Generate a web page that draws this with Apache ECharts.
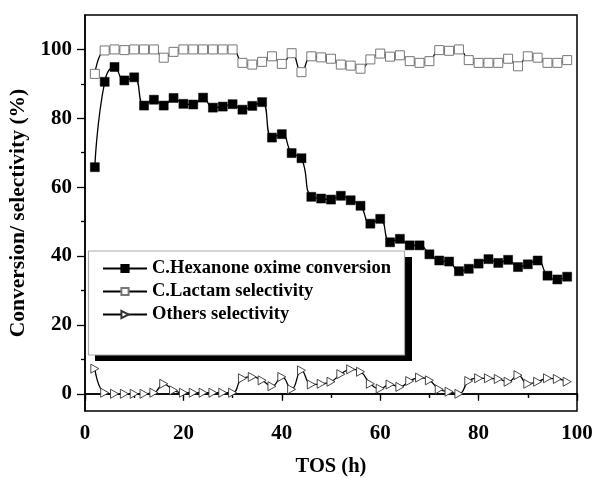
<!DOCTYPE html>
<html>
<head>
<meta charset="utf-8">
<script src="https://cdn.jsdelivr.net/npm/echarts@6/dist/echarts.min.js"></script>
<style>html,body{margin:0;padding:0;background:#fff}#c{width:593px;height:478px}</style>
</head>
<body>
<div id="c"></div>
<script>
const tosHours = [2,4,6,8,10,12,14,16,18,20,22,24,26,28,30,32,34,36,38,40,42,44,46,48,50,52,54,56,58,60,62,64,66,68,70,72,74,76,78,80,82,84,86,88,90,92,94,96,98];
const conversion = [65.8,90.6,94.9,91.0,91.9,83.7,85.4,83.7,85.9,84.2,84.0,86.0,83.1,83.4,84.1,82.5,83.6,84.7,74.4,75.4,69.9,68.4,57.2,56.7,56.4,57.5,56.2,54.6,49.4,50.8,44.0,45.0,43.1,43.1,40.5,38.7,38.4,35.6,36.3,37.8,39.1,38.0,38.9,36.8,37.6,38.7,34.3,33.2,34.0];
const lactamSel = [92.9,99.7,100,99.8,100,100,100,97.6,99.3,100,100,100,100,100,100,96.1,95.6,96.4,98.0,95.8,98.9,93.4,98.0,97.7,97.3,95.6,95.3,94.4,97.1,98.8,97.9,98.3,96.6,96.1,96.6,99.8,99.6,100,96.9,96.1,96.1,96.1,97.3,95.1,98.0,97.6,96.1,96.1,96.9];
const othersSel = [7.3,0.3,0,0,0,0,0.3,2.9,1.0,0.3,0.3,0.3,0.3,0.3,0.3,4.5,4.9,3.9,2.2,4.9,1.3,6.8,2.7,2.9,3.5,5.7,7.1,6.4,2.9,1.5,2.7,2.0,3.7,4.7,3.9,1.3,0.6,0.0,3.7,4.5,4.5,4.3,3.5,5.4,2.9,3.5,4.5,4.3,3.5];
const seriesNames = ['C.Hexanone oxime conversion','C.Lactam selectivity','Others selectivity'];
const yMajorTicks = [0,20,40,60,80,100];
const yMinorTicks = [10,30,50,70,90];
const xTitle = 'TOS (h)';
const yTitle = 'Conversion/ selectivity (%)';

const pairs = arr => tosHours.map((x,i) => [x, arr[i]]);
const FONT = 'Liberation Serif';

const chart = echarts.init(document.getElementById('c'), null, {renderer:'canvas'});
const lineStyle = {color:'#000', width:1.3};
chart.setOption({
  animation:false,
  backgroundColor:'#fff',
  grid:{left:85, right:16, top:15, bottom:67, show:true, borderColor:'#000', borderWidth:1.5, backgroundColor:'transparent', outerBoundsMode:'none', containLabel:false},
  xAxis:[{
    type:'value', min:0, max:100, interval:20,
    name:xTitle, nameLocation:'middle', nameGap:45,
    nameTextStyle:{fontFamily:FONT, fontWeight:'bold', fontSize:20.5, color:'#000'},
    axisLine:{show:true, lineStyle:{color:'#000', width:1.5}},
    axisTick:{show:true, inside:false, length:7, lineStyle:{color:'#000', width:1.3}},
    minorTick:{show:true, splitNumber:2, length:4, lineStyle:{color:'#000', width:1.3}},
    axisLabel:{fontFamily:FONT, fontWeight:'bold', fontSize:21, color:'#000', margin:12},
    splitLine:{show:false}, minorSplitLine:{show:false}
  },{
    type:'value', min:0, max:100, interval:10, position:'top',
    axisLine:{show:true, lineStyle:{color:'#000', width:1.5}},
    axisTick:{show:true, inside:true, length:4, lineStyle:{color:'#000', width:1.2}},
    axisLabel:{show:false}, splitLine:{show:false}
  }],
  yAxis:[{
    type:'value', min:-5, max:110,
    name:yTitle, nameLocation:'middle', nameGap:47,
    nameTextStyle:{fontFamily:FONT, fontWeight:'bold', fontSize:21.5, color:'#000'},
    axisLine:{show:true, lineStyle:{color:'#000', width:1.5}},
    axisTick:{show:true, inside:false, length:8, customValues:yMajorTicks, lineStyle:{color:'#000', width:1.3}},
    axisLabel:{fontFamily:FONT, fontWeight:'bold', fontSize:21, color:'#000', margin:13, customValues:yMajorTicks},
    splitLine:{show:false}
  },{
    type:'value', min:-5, max:110, position:'left', offset:0,
    axisLine:{show:false},
    axisTick:{show:true, inside:false, length:4, customValues:yMinorTicks, lineStyle:{color:'#000', width:1.3}},
    axisLabel:{show:false, customValues:yMinorTicks},
    splitLine:{show:false}
  }],
  legend:{
    orient:'vertical', left:102, top:259, padding:0, itemGap:4,
    itemWidth:44, itemHeight:9, z:10,
    textStyle:{fontFamily:FONT, fontWeight:'bold', fontSize:18.5, color:'#000'},
    data:seriesNames
  },
  graphic:[
    {type:'rect', z:8, shape:{x:95, y:257, width:317, height:104}, style:{fill:'#000'}},
    {type:'rect', z:9, shape:{x:88.5, y:251, width:316, height:104}, style:{fill:'#fff', stroke:'#aaa', lineWidth:1.2}}
  ],
  series:[
    {name:seriesNames[0], type:'line', data:pairs(conversion), smooth:0.5,
     symbol:'rect', symbolSize:9, lineStyle:lineStyle,
     itemStyle:{color:'#000', borderColor:'#000', borderWidth:0.5}},
    {name:seriesNames[1], type:'line', data:pairs(lactamSel), smooth:0.5,
     symbol:'rect', symbolSize:9, lineStyle:lineStyle,
     itemStyle:{color:'#fff', borderColor:'#777', borderWidth:1}},
    {name:seriesNames[2], type:'line', data:pairs(othersSel), smooth:0.5,
     symbol:'path://M0,0L10,5L0,10Z', symbolSize:[8,9], lineStyle:lineStyle,
     itemStyle:{color:'#fff', borderColor:'#333', borderWidth:0.9}}
  ]
});
</script>
</body>
</html>
